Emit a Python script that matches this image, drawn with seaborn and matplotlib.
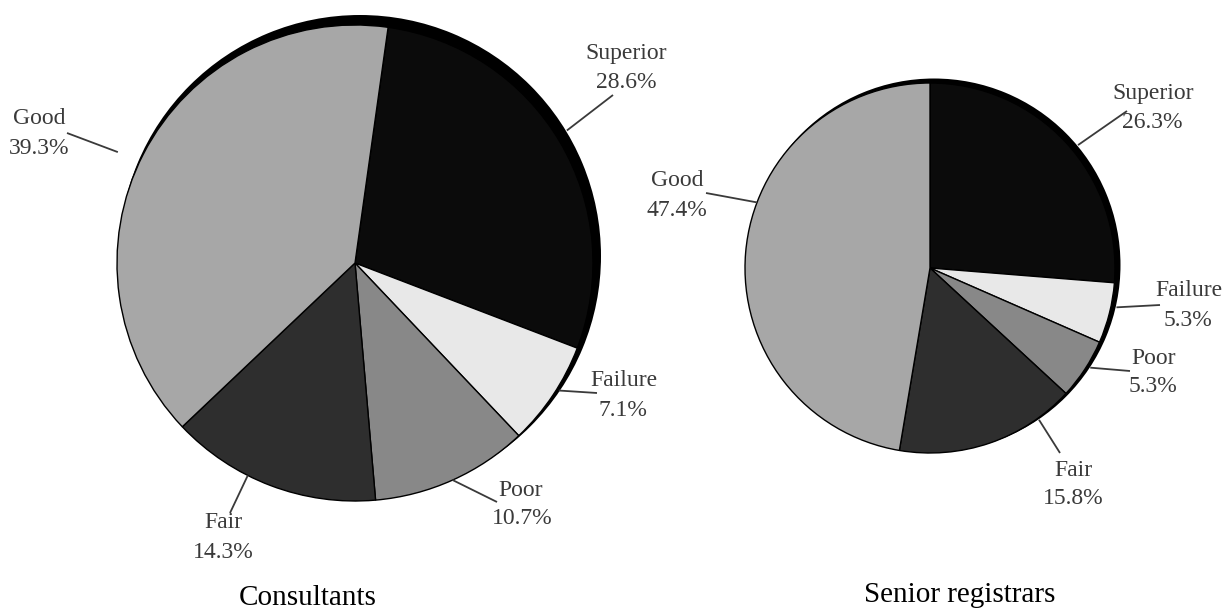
import matplotlib
matplotlib.use("Agg")
import numpy as np
import matplotlib.pyplot as plt
import seaborn as sns

# ---------------- data ----------------
categories = ["Superior", "Failure", "Poor", "Fair", "Good"]
consultants = [28.6, 7.1, 10.7, 14.3, 39.3]
registrars = [26.3, 5.3, 5.3, 15.8, 47.4]
consultant_pct = ["28.6%", "7.1%", "10.7%", "14.3%", "39.3%"]
registrar_pct = ["26.3%", "5.3%", "5.3%", "15.8%", "47.4%"]
group_titles = ["Consultants", "Senior registrars"]

# ---------------- style ----------------
slice_colors = ["#0b0b0b", "#e8e8e8", "#888888", "#2e2e2e", "#a7a7a7"]
sns.set_theme(style="white")
plt.rcParams["font.family"] = ["Liberation Serif", "DejaVu Serif"]
label_color = "#3a3a3a"

W, H = 1228, 611
fig = plt.figure(figsize=(W / 100, H / 100), dpi=100)
ax = fig.add_axes([0, 0, 1, 1])


def Y(y):
    return H - y


panels = [
    dict(values=consultants, pcts=consultant_pct, title=group_titles[0],
         center=(355, 263), radius=238, start=82,
         shadow=(5, 7, 3),
         # label name centre, pct centre (image px)
         name_pos=[(626, 53), (624, 380), (521, 490), (223, 523), (39, 119)],
         pct_pos=[(626, 83), (623, 410), (522, 519), (223, 552), (39, 148)],
         line_end=[(613, 95), (597, 393), (497, 502), (230, 513), (67, 133)],
         anchor_off=[1.5, 1.7, 0.0, -6.0, 2.2],
         anchor_r=[1.05, 1.01, 1.0, 1.0, 1.10],
         title_pos=(308, 598)),
    dict(values=registrars, pcts=registrar_pct, title=group_titles[1],
         center=(930, 268), radius=185, start=90,
         shadow=(4, 3, 1.5),
         name_pos=[(1153, 93), (1189, 290), (1154, 358), (1073, 470), (677, 181)],
         pct_pos=[(1152, 122), (1188, 320), (1153, 387), (1073, 499), (677, 211)],
         line_end=[(1127, 111), (1160, 305), (1130, 371), (1060, 453), (706, 193)],
         anchor_off=[-3.0, 2.2, 1.3, 16.8, -16.0],
         anchor_r=[1.04, 1.03, 1.02, 1.01, 1.0],
         title_pos=(960, 595)),
]

for p in panels:
    cx, cy = p["center"]
    r = p["radius"]
    sx, sy, sr = p["shadow"]
    # drop shadow rim
    ax.pie([1], colors=["black"], center=(cx + sx, Y(cy) + sy), radius=r + sr,
           frame=True, wedgeprops=dict(linewidth=0))
    wedges, _ = ax.pie(p["values"], colors=slice_colors, startangle=p["start"],
                       counterclock=False, center=(cx, Y(cy)), radius=r,
                       frame=True, normalize=True,
                       wedgeprops=dict(edgecolor="black", linewidth=1.0))
    for i, w in enumerate(wedges):
        mid = np.deg2rad((w.theta1 + w.theta2) / 2 + p["anchor_off"][i])
        ar = r * p["anchor_r"][i]
        ax_, ay_ = cx + ar * np.cos(mid), Y(cy) + ar * np.sin(mid)
        ex, ey = p["line_end"][i]
        ax.plot([ax_, ex], [ay_, Y(ey)], color=label_color, lw=1.3,
                solid_capstyle="butt", zorder=5)
        nx, ny = p["name_pos"][i]
        px, py = p["pct_pos"][i]
        ax.text(nx, Y(ny), categories[i], ha="center", va="center",
                fontsize=17, color=label_color)
        ax.text(px, Y(py), p["pcts"][i], ha="center", va="center",
                fontsize=17, color=label_color)
    tx, ty = p["title_pos"]
    ax.text(tx, Y(ty), p["title"], ha="center", va="center",
            fontsize=21, color="black")

ax.set_xlim(0, W)
ax.set_ylim(0, H)
ax.axis("off")
fig.savefig("out.png", dpi=100)
